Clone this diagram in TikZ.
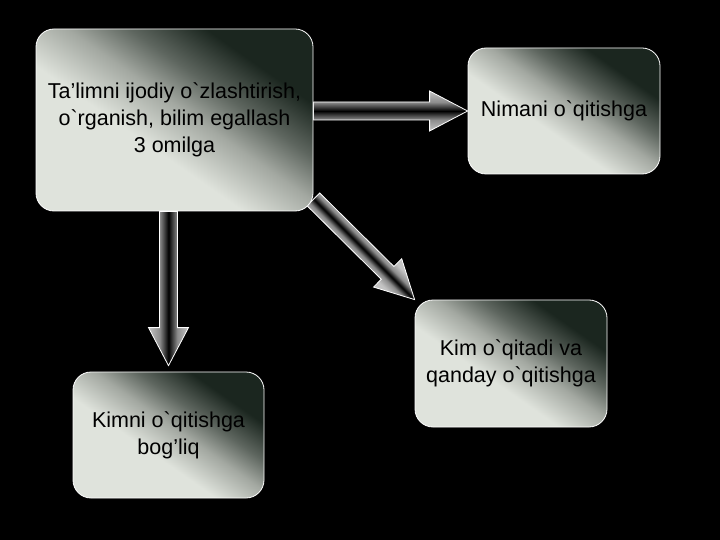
\documentclass[tikz,border=0pt]{standalone}
\usepackage{fontspec}
\setmainfont{Liberation Sans}[Ligatures=TeXOff]
\usetikzlibrary{calc,backgrounds}
\definecolor{boxlight}{HTML}{DFE3DC}
\definecolor{boxmid}{HTML}{A3A8A1}
\definecolor{boxmiddark}{HTML}{5E665F}
\definecolor{boxdark}{HTML}{1B261F}
\definecolor{tubelight}{HTML}{C4C4C4}
\definecolor{tubemid}{HTML}{8C8C8C}
\pgfdeclarehorizontalshading{boxshade}{100bp}{color(0bp)=(boxlight); color(42bp)=(boxlight); color(53bp)=(boxmid); color(61bp)=(boxmiddark); color(71bp)=(boxdark); color(100bp)=(boxdark)}
\pgfdeclarehorizontalshading{tubeshade}{100bp}{color(0bp)=(tubelight); color(25bp)=(tubelight); color(39bp)=(tubemid); color(50bp)=(black); color(61bp)=(tubemid); color(75bp)=(tubelight); color(100bp)=(tubelight)}
\pgfdeclarehorizontalshading{tubeshadediag}{100bp}{color(0bp)=(tubelight); color(44bp)=(tubelight); color(47.3bp)=(tubemid); color(50bp)=(black); color(52.7bp)=(tubemid); color(56bp)=(tubelight); color(100bp)=(tubelight)}

\begin{document}
\begin{tikzpicture}[x=1pt,y=-1pt,
  box/.style={draw=white, line width=0.8pt, rounded corners=18pt, shade, shading=boxshade, shading angle=55,
    align=center, font=\fontsize{21.5}{27}\selectfont, inner sep=0pt},
  blockarrow/.style={draw=white, line width=0.8pt, shade, shading=tubeshade,
    to path={let \p1=(\tikztostart), \p2=(\tikztotarget),
      \n1={atan2(\y2-\y1,\x2-\x1)}, \n2={veclen(\x2-\x1,\y2-\y1)} in
      ([shift={(\p1)},rotate=\n1]0pt,-9pt) -- ([shift={(\p1)},rotate=\n1]\n2-38pt,-9pt)
      -- ([shift={(\p1)},rotate=\n1]\n2-38pt,-20pt) -- (\p2)
      -- ([shift={(\p1)},rotate=\n1]\n2-38pt,20pt) -- ([shift={(\p1)},rotate=\n1]\n2-38pt,9pt)
      -- ([shift={(\p1)},rotate=\n1]0pt,9pt) -- cycle}}]
\useasboundingbox (0,0) rectangle (720,540);

\node[box, minimum width=277pt, minimum height=182pt] (main) at (174.5,120)
  {Ta’limni ijodiy o`zlashtirish,\\ o`rganish, bilim egallash\\ 3 omilga};
\node[box, minimum width=192pt, minimum height=126pt] (what) at (564,111) {Nimani o`qitishga};
\node[box, minimum width=192pt, minimum height=127pt] (who) at (511,363.5) {Kim o`qitadi va\\ qanday o`qitishga};
\node[box, minimum width=191pt, minimum height=126pt] (whom) at (168.5,435) {Kimni o`qitishga\\ bog’liq};

\begin{pgfonlayer}{background}
\fill[black] (0,0) rectangle (720,540);
% arrows
\path[blockarrow, shading angle=90] (main.east |- what.west) to (what.west);
\path[blockarrow, shading angle=0] (whom.north |- main.south) to ([yshift=6pt]whom.north);
\path[blockarrow, shading=tubeshadediag, shading angle=45] ([yshift=12pt]main.south east) to (who.north west);
\end{pgfonlayer}
\end{tikzpicture}
\end{document}
